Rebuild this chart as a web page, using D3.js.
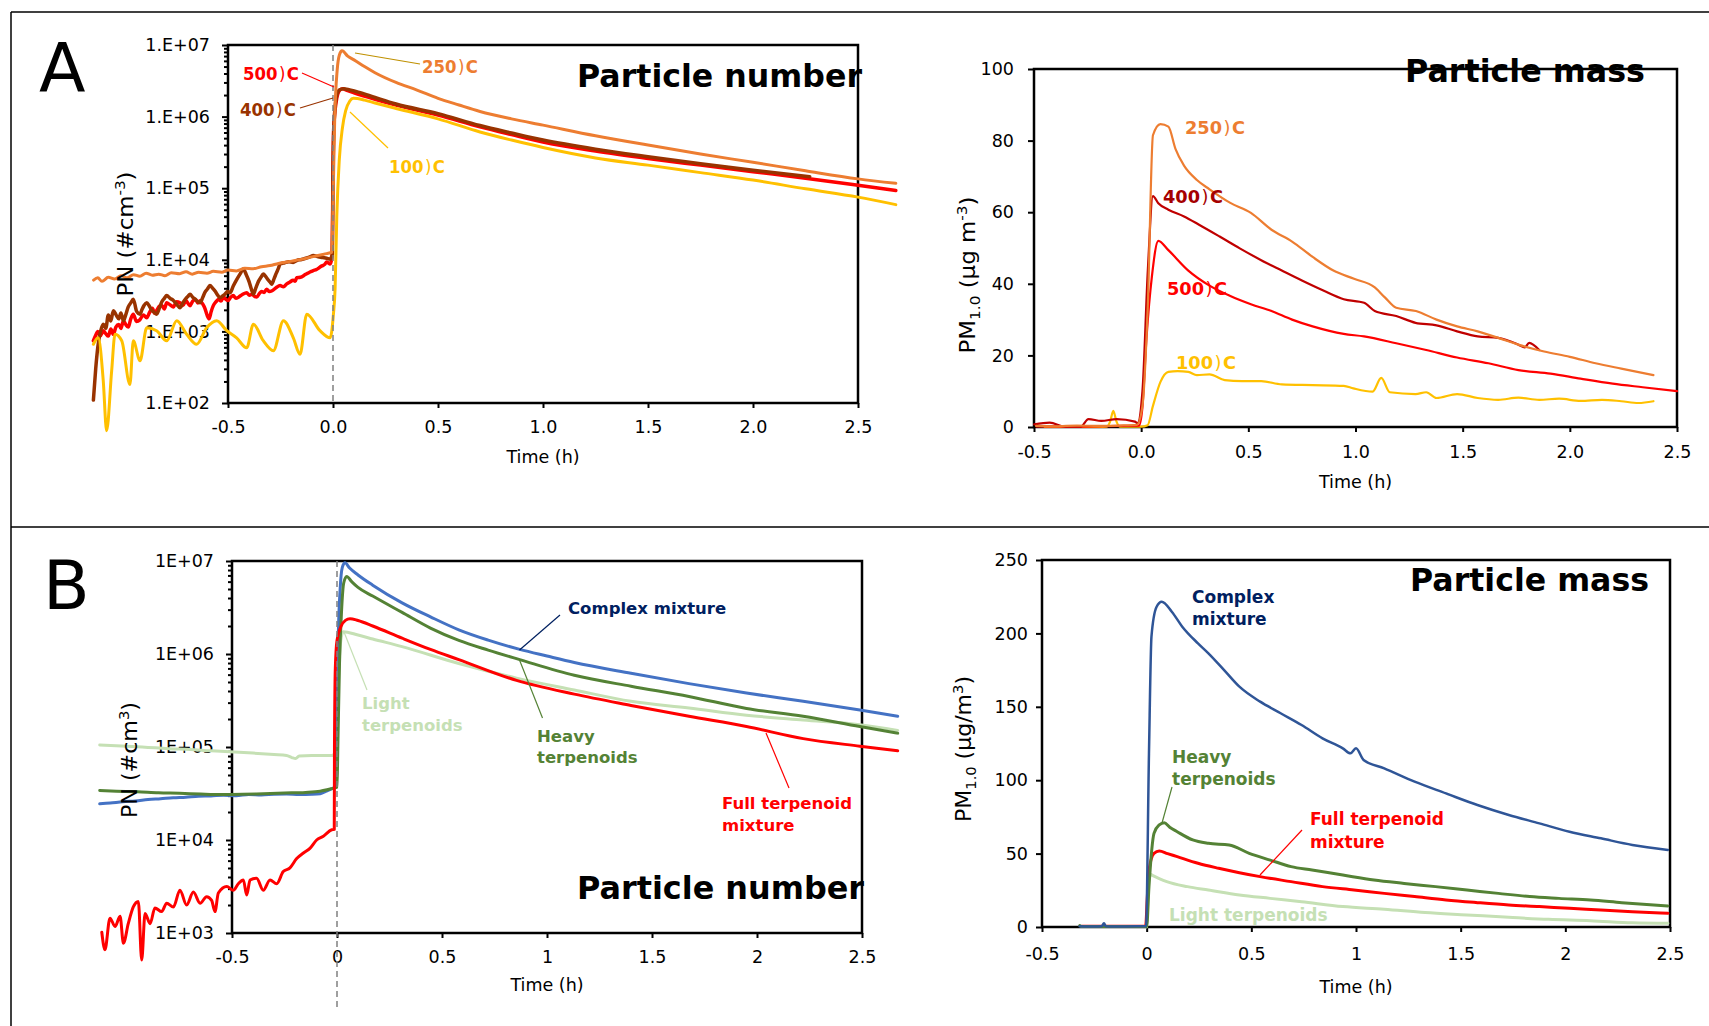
<!DOCTYPE html>
<html><head><meta charset="utf-8">
<script src="https://cdn.jsdelivr.net/npm/d3@7"></script>
<style>body{margin:0;background:#fff;} text{font-family:"DejaVu Sans",sans-serif;}</style>
</head><body><script>
// ---------------- DATA ----------------
const timeTicks = [-0.5, 0, 0.5, 1, 1.5, 2, 2.5];
const timeLabelsA = ["-0.5","0.0","0.5","1.0","1.5","2.0","2.5"];
const timeLabelsB = ["-0.5","0","0.5","1","1.5","2","2.5"];
const pnTicksA = [1e2,1e3,1e4,1e5,1e6,1e7];
const pnLabelsA = ["1.E+02","1.E+03","1.E+04","1.E+05","1.E+06","1.E+07"];
const pnTicksB = [1e3,1e4,1e5,1e6,1e7];
const pnLabelsB = ["1E+03","1E+04","1E+05","1E+06","1E+07"];
const pmTicksA = [0,20,40,60,80,100];
const pmTicksB = [0,50,100,150,200,250];
const namesA = ["100)C","250)C","400)C","500)C"];
const namesB = ["Complex mixture","Heavy terpenoids","Full terpenoid mixture","Light terpenoids"];

// Panel A - particle number (time h, #/cm3)
const pnA_250 = [[-1.14,5200],[-1.12,5600],[-1.10,5000],[-1.07,5700],[-1.04,5400],[-1.01,6000],[-0.98,5600],[-0.95,6200],[-0.92,5900],[-0.89,6500],[-0.86,6100],[-0.83,6300],[-0.80,6000],[-0.77,6600],[-0.73,6400],[-0.70,6800],[-0.67,6300],[-0.64,6700],[-0.60,6500],[-0.57,6900],[-0.53,6700],[-0.50,7200],[-0.46,7000],[-0.42,7600],[-0.38,7500],[-0.34,8000],[-0.30,8300],[-0.26,8900],[-0.22,9300],[-0.18,9800],[-0.14,10300],[-0.10,11000],[-0.06,11700],[-0.03,12200],[-0.005,12800],[0.0,60000],[0.008,900000],[0.02,4500000],[0.03,7200000],[0.043,8300000],[0.07,7000000],[0.1,6200000],[0.15,5000000],[0.2,4100000],[0.3,3000000],[0.4,2350000],[0.5,1800000],[0.6,1450000],[0.7,1180000],[0.85,930000],[1.0,760000],[1.25,540000],[1.5,400000],[1.75,300000],[2.0,230000],[2.25,175000],[2.5,135000],[2.68,117000]];
const pnA_500 = [[-1.141,740],[-1.13,880],[-1.12,1000],[-1.108,870],[-1.094,1020],[-1.082,930],[-1.07,860],[-1.058,1080],[-1.046,910],[-1.034,1150],[-1.02,1250],[-1.01,1100],[-0.998,1410],[-0.987,1250],[-0.975,1150],[-0.963,1500],[-0.951,1740],[-0.936,1380],[-0.92,1450],[-0.903,1700],[-0.887,1550],[-0.873,1850],[-0.86,2100],[-0.85,1800],[-0.84,1950],[-0.827,2250],[-0.815,2300],[-0.803,2050],[-0.792,2510],[-0.776,2350],[-0.76,2200],[-0.745,2600],[-0.729,2510],[-0.715,2300],[-0.70,2700],[-0.69,2450],[-0.681,2290],[-0.668,2650],[-0.655,2800],[-0.644,2500],[-0.633,2690],[-0.62,2400],[-0.61,2100],[-0.60,1700],[-0.59,1500],[-0.58,1900],[-0.57,2290],[-0.557,2600],[-0.545,2800],[-0.533,2650],[-0.522,3020],[-0.51,2800],[-0.50,2700],[-0.487,3000],[-0.475,3160],[-0.462,2900],[-0.45,3000],[-0.43,3300],[-0.411,3470],[-0.398,3200],[-0.385,3300],[-0.374,3100],[-0.363,3020],[-0.35,3400],[-0.34,3600],[-0.328,3500],[-0.316,3890],[-0.303,3600],[-0.29,3700],[-0.27,4100],[-0.252,4370],[-0.236,4200],[-0.22,4600],[-0.205,4900],[-0.19,5200],[-0.18,5000],[-0.173,5620],[-0.155,5700],[-0.14,6000],[-0.13,6300],[-0.12,6500],[-0.107,6800],[-0.094,7080],[-0.08,7300],[-0.07,7600],[-0.06,8000],[-0.05,8300],[-0.04,8600],[-0.03,9300],[-0.022,9000],[-0.014,8710],[-0.004,11000],[0.0,200000],[0.003,650000],[0.015,1600000],[0.03,2300000],[0.045,2450000],[0.07,2300000],[0.1,2150000],[0.2,1750000],[0.3,1450000],[0.5,1050000],[0.7,720000],[0.85,560000],[1.0,440000],[1.25,330000],[1.5,260000],[1.75,210000],[2.0,170000],[2.25,138000],[2.5,110000],[2.68,93000]];
const pnA_400 = [[-1.141,110],[-1.13,300],[-1.12,600],[-1.107,1000],[-1.094,1260],[-1.082,1100],[-1.07,1700],[-1.058,1400],[-1.046,1950],[-1.033,1700],[-1.02,1500],[-1.01,1800],[-0.998,1410],[-0.987,1700],[-0.975,2200],[-0.963,2500],[-0.951,2820],[-0.935,1900],[-0.919,1740],[-0.91,2000],[-0.90,2300],[-0.887,2510],[-0.876,2300],[-0.865,2000],[-0.852,1850],[-0.84,1740],[-0.827,2100],[-0.815,2600],[-0.803,2900],[-0.792,3160],[-0.776,2900],[-0.76,2700],[-0.745,2400],[-0.729,2140],[-0.715,2500],[-0.70,2900],[-0.69,3100],[-0.681,3310],[-0.668,3000],[-0.655,2800],[-0.644,2600],[-0.633,2510],[-0.62,3000],[-0.61,3500],[-0.598,3900],[-0.586,4370],[-0.573,4000],[-0.56,3600],[-0.549,3200],[-0.538,2950],[-0.527,3100],[-0.515,3300],[-0.502,3600],[-0.49,3470],[-0.475,4300],[-0.46,5200],[-0.443,6300],[-0.427,7410],[-0.413,6200],[-0.40,5000],[-0.39,4000],[-0.379,3310],[-0.367,4100],[-0.355,5000],[-0.343,5700],[-0.332,6310],[-0.32,5800],[-0.31,5300],[-0.30,4900],[-0.292,4570],[-0.28,5500],[-0.27,6500],[-0.26,7600],[-0.252,8710],[-0.23,9100],[-0.21,9400],[-0.19,9200],[-0.173,9770],[-0.15,10100],[-0.13,10500],[-0.11,11000],[-0.094,11480],[-0.07,11000],[-0.05,10800],[-0.03,10500],[-0.014,10230],[-0.003,12000],[0.0,150000],[0.005,800000],[0.015,1800000],[0.03,2350000],[0.05,2450000],[0.08,2350000],[0.12,2200000],[0.2,1850000],[0.3,1500000],[0.5,1100000],[0.7,750000],[0.85,590000],[1.0,470000],[1.25,350000],[1.5,275000],[1.75,220000],[2.0,178000],[2.27,145000]];
const pnA_100 = [[-1.141,661],[-1.118,813],[-1.094,204],[-1.078,41],[-1.054,282],[-1.038,912],[-1.006,741],[-0.967,182],[-0.951,741],[-0.919,389],[-0.887,1122],[-0.84,1023],[-0.792,741],[-0.744,1413],[-0.697,912],[-0.649,661],[-0.602,1122],[-0.554,1413],[-0.506,1023],[-0.459,813],[-0.411,589],[-0.379,1259],[-0.332,741],[-0.284,537],[-0.236,1413],[-0.189,813],[-0.157,479],[-0.125,1738],[-0.062,1023],[-0.014,813],[0.002,1738],[0.01,4000],[0.018,40000],[0.03,250000],[0.045,700000],[0.06,1200000],[0.08,1650000],[0.097,1800000],[0.15,1700000],[0.2,1550000],[0.3,1300000],[0.5,930000],[0.7,610000],[0.85,470000],[1.0,370000],[1.25,265000],[1.5,210000],[1.75,165000],[2.0,130000],[2.25,98000],[2.5,75000],[2.68,59000]];

// Panel A - particle mass (ug/m3)
const pmA_250 = [[-0.49,0.3],[-0.4,0.2],[-0.3,0.4],[-0.2,0.3],[-0.1,0.4],[-0.02,0.6],[0.006,5.9],[0.031,34],[0.055,81.5],[0.09,84.6],[0.127,83.9],[0.16,77.7],[0.2,73],[0.26,69],[0.319,66.4],[0.416,62.6],[0.512,59.8],[0.608,55.1],[0.704,51.8],[0.8,47.5],[0.897,43.7],[0.993,41.4],[1.09,39],[1.137,36.2],[1.19,33.3],[1.282,32.4],[1.378,30],[1.474,28.1],[1.57,26.7],[1.666,24.9],[1.76,23],[1.88,21.1],[2.0,19.6],[2.12,17.8],[2.24,16.3],[2.39,14.5]];
const pmA_400 = [[-0.499,0.75],[-0.427,1.2],[-0.354,0.1],[-0.282,0.1],[-0.246,2.2],[-0.186,1.7],[-0.114,2.2],[-0.029,1.5],[-0.017,1.1],[0.006,10],[0.031,43.7],[0.055,64.5],[0.08,62.5],[0.127,60.7],[0.2,58.8],[0.27,56.5],[0.366,53.2],[0.46,49.9],[0.56,46.6],[0.656,43.7],[0.75,40.9],[0.85,38.1],[0.945,35.7],[1.04,34.7],[1.09,32.4],[1.19,31],[1.28,29.1],[1.378,28.4],[1.474,26.7],[1.57,25.3],[1.666,24.9],[1.76,23],[1.79,22.2],[1.81,23.5],[1.857,21.5]];
const pmA_500 = [[-0.49,0.2],[-0.3,0.1],[-0.1,0.3],[-0.01,0.4],[0.005,5],[0.025,25],[0.05,42],[0.08,52],[0.127,49.4],[0.22,43.7],[0.319,39.5],[0.416,36.6],[0.512,34.3],[0.608,32.4],[0.704,30],[0.8,28.1],[0.945,26],[1.04,25.3],[1.19,23.4],[1.33,21.5],[1.474,19.4],[1.62,17.8],[1.76,15.9],[1.91,14.9],[2.05,13.5],[2.2,12.1],[2.34,11.1],[2.5,10]];
const pmA_100 = [[-0.45,0],[-0.2,0],[-0.16,0.1],[-0.145,1.5],[-0.13,4.5],[-0.115,1.5],[-0.1,0.1],[0.0,0.1],[0.03,0.5],[0.055,5.9],[0.09,12.6],[0.127,15.4],[0.17,15.6],[0.22,15.4],[0.26,14.5],[0.319,14.7],[0.39,13.1],[0.47,12.8],[0.56,12.8],[0.656,11.9],[0.8,11.7],[0.945,11.5],[0.99,10.8],[1.08,9.9],[1.12,13.7],[1.16,9.7],[1.28,9.2],[1.33,9.7],[1.378,8.1],[1.474,9.2],[1.57,8.1],[1.666,7.6],[1.76,8.2],[1.857,7.6],[1.95,7.9],[2.05,7.3],[2.15,7.6],[2.24,7.2],[2.32,6.7],[2.39,7.2]];

// Panel B - particle number
const pnB_complex = [[-1.13,24500],[-1.08,25000],[-1.02,25800],[-0.96,26300],[-0.9,27200],[-0.84,27800],[-0.78,28500],[-0.72,28900],[-0.66,29600],[-0.6,29800],[-0.54,30300],[-0.48,30000],[-0.42,30800],[-0.36,30500],[-0.3,31000],[-0.24,31200],[-0.18,30800],[-0.12,31000],[-0.08,31500],[-0.05,33500],[-0.02,36000],[-0.005,37500],[0.0,200000],[0.006,1500000],[0.015,5000000],[0.025,8500000],[0.038,9550000],[0.06,8400000],[0.1,7080000],[0.17,5500000],[0.31,3550000],[0.445,2510000],[0.58,1820000],[0.72,1410000],[0.87,1120000],[1.0,950000],[1.13,810000],[1.4,620000],[1.676,480000],[1.95,380000],[2.22,310000],[2.49,250000],[2.67,214000]];
const pnB_heavy = [[-1.13,34000],[-1.05,33500],[-0.95,33000],[-0.85,32200],[-0.75,31800],[-0.65,31200],[-0.55,30800],[-0.45,31000],[-0.35,31500],[-0.25,32000],[-0.15,32500],[-0.08,33500],[-0.03,35500],[0.0,37000],[0.004,100000],[0.012,800000],[0.022,3000000],[0.032,5800000],[0.046,6800000],[0.07,6000000],[0.1,5200000],[0.17,4200000],[0.31,2800000],[0.445,1900000],[0.58,1400000],[0.72,1100000],[0.87,870000],[1.13,590000],[1.4,450000],[1.676,350000],[1.95,260000],[2.22,214000],[2.49,166000],[2.67,141000]];
const pnB_full = [[-1.12,1020],[-1.105,661],[-1.081,1445],[-1.057,1175],[-1.033,1510],[-1.017,776],[-0.994,1259],[-0.97,1905],[-0.946,2188],[-0.93,513],[-0.914,1622],[-0.89,1259],[-0.867,1862],[-0.835,1698],[-0.811,2089],[-0.779,1905],[-0.748,2884],[-0.716,1995],[-0.684,2754],[-0.652,2089],[-0.621,2455],[-0.597,2239],[-0.581,1698],[-0.565,2692],[-0.525,3162],[-0.494,2884],[-0.47,3388],[-0.446,3715],[-0.43,2570],[-0.414,3715],[-0.383,3890],[-0.351,2884],[-0.319,3715],[-0.287,3388],[-0.256,4571],[-0.224,5012],[-0.192,6310],[-0.16,7244],[-0.129,8128],[-0.097,10000],[-0.065,10965],[-0.025,12882],[-0.013,13000],[-0.012,100000],[-0.008,700000],[0.0,1400000],[0.02,2000000],[0.04,2300000],[0.062,2400000],[0.1,2290000],[0.17,2000000],[0.31,1480000],[0.445,1120000],[0.58,870000],[0.855,520000],[1.13,370000],[1.4,280000],[1.676,214000],[1.95,166000],[2.22,123000],[2.49,102000],[2.67,91000]];
const pnB_light = [[-1.13,105000],[-1.0,102000],[-0.9,99000],[-0.8,96000],[-0.7,94000],[-0.6,91000],[-0.51,89000],[-0.4,86000],[-0.3,83000],[-0.24,81000],[-0.215,77000],[-0.197,75000],[-0.18,80000],[-0.12,81000],[-0.02,81000],[0.0,120000],[0.008,600000],[0.02,1500000],[0.03,1740000],[0.1,1600000],[0.17,1450000],[0.31,1200000],[0.58,790000],[0.855,550000],[1.13,410000],[1.4,310000],[1.676,263000],[1.95,220000],[2.22,195000],[2.49,174000],[2.67,151000]];

// Panel B - particle mass
const pmB_complex = [[-0.32,0.5],[-0.25,0.3],[-0.215,0.5],[-0.204,2.5],[-0.195,0.5],[-0.15,0.3],[-0.05,0.5],[-0.003,0.5],[0.011,118],[0.023,198],[0.047,218],[0.072,221.6],[0.12,214.8],[0.17,204.6],[0.245,193.2],[0.295,186.4],[0.37,175],[0.443,163.7],[0.542,153.5],[0.64,145.6],[0.74,137.6],[0.84,128.5],[0.937,121.7],[0.974,118.3],[1.0,121.7],[1.036,113.8],[1.135,108.1],[1.28,99],[1.43,91],[1.58,83.1],[1.73,76.3],[1.876,70.6],[2.02,64.9],[2.17,60.4],[2.32,55.9],[2.49,52.5]];
const pmB_heavy = [[-0.32,1],[-0.31,0.3],[-0.1,0.3],[0.0,0.3],[0.011,27.5],[0.035,63.8],[0.06,69.5],[0.084,71],[0.11,68],[0.146,64.9],[0.22,59.3],[0.295,57],[0.394,55.9],[0.49,50.2],[0.59,45.6],[0.69,41.1],[0.79,38.8],[0.937,35.4],[1.086,32],[1.23,29.7],[1.38,27.5],[1.53,25.2],[1.68,22.9],[1.83,20.7],[1.97,19.5],[2.12,18.4],[2.27,16.6],[2.49,14.3]];
const pmB_full = [[-0.31,0.5],[-0.1,0.5],[-0.005,0.5],[0.003,20],[0.011,38.8],[0.035,50.2],[0.06,51.8],[0.1,50],[0.146,47.9],[0.245,43.4],[0.344,40],[0.443,37],[0.542,34.3],[0.69,30.9],[0.84,27.5],[0.99,25.2],[1.135,22.9],[1.28,20.7],[1.43,18.4],[1.58,16.6],[1.73,15],[1.876,13.9],[2.02,12.7],[2.17,11.6],[2.32,10.4],[2.49,9.3]];
const pmB_light = [[0.0,0],[0.006,20],[0.011,36.5],[0.03,35],[0.06,33],[0.096,30.9],[0.195,27.5],[0.295,25.2],[0.443,21.8],[0.59,19.5],[0.74,17.2],[0.937,13.9],[1.135,12.1],[1.33,9.8],[1.53,8.2],[1.73,6.6],[1.92,5.2],[2.12,4.3],[2.32,2.9],[2.49,2.5]];

// ---------------- DRAW ----------------
const W = 1709, H = 1026;
const svg = d3.select("body").append("svg").attr("width", W).attr("height", H).style("display","block");
svg.append("rect").attr("width",W).attr("height",H).attr("fill","#fff");

// outer frames
[[11,12,W,12],[11,12,11,H],[11,527,W,527]].forEach(l=>{
  svg.append("line").attr("x1",l[0]).attr("y1",l[1]).attr("x2",l[2]).attr("y2",l[3]).attr("stroke","#000").attr("stroke-width",1.5);
});

function styleAxis(sel, fs){
  sel.select(".domain").remove();
  sel.selectAll("line").attr("stroke","#000").attr("stroke-width",2);
  sel.selectAll("text").attr("fill","#000").style("font-size",fs+"px").style("font-family","DejaVu Sans");
}

function drawPanel(p){
  const g = svg.append("g");
  const x = d3.scaleLinear().domain([timeTicks[0], timeTicks[timeTicks.length-1]]).range([p.left, p.right]);
  const y = (p.log ? d3.scaleLog() : d3.scaleLinear()).domain(p.yDomain).range([p.bottom, p.top]);

  g.append("rect").attr("x",p.left).attr("y",p.top).attr("width",p.right-p.left).attr("height",p.bottom-p.top)
    .attr("fill","none").attr("stroke","#000").attr("stroke-width",2.5);

  // x axis
  const xa = g.append("g").attr("transform",`translate(0,${p.bottom})`)
    .call(d3.axisBottom(x).tickValues(timeTicks).tickFormat((d,i)=>p.xLabels[i]).tickSize(5).tickPadding(p.xPad));
  styleAxis(xa, 17.5);

  // y axis
  const ya = g.append("g").attr("transform",`translate(${p.left},0)`)
    .call(d3.axisLeft(y).tickValues(p.yTicks).tickFormat((d,i)=>p.yLabels[i]).tickSize(6).tickPadding(p.yPad));
  styleAxis(ya, 17.5);
  if (p.log){
    const minor = [];
    for (let i=0;i<p.yTicks.length-1;i++) for (let k=2;k<10;k++) minor.push(p.yTicks[i]*k);
    const ym = g.append("g").attr("transform",`translate(${p.left},0)`)
      .call(d3.axisLeft(y).tickValues(minor).tickFormat("").tickSize(4));
    styleAxis(ym, 10);
  }

  // series
  const line = d3.line().x(d=>x(d[0])).y(d=>y(d[1])).curve(d3.curveMonotoneX);
  p.series.forEach(s=>{
    g.append("path").attr("d", line(s.data)).attr("fill","none")
      .attr("stroke", s.color).attr("stroke-width", s.w)
      .attr("stroke-linejoin","round").attr("stroke-linecap","round");
  });

  // dashed t=0 line
  if (p.dash){
    g.append("line").attr("x1",x(0)).attr("x2",x(0)).attr("y1",p.top).attr("y2",p.dash)
      .attr("stroke","#808080").attr("stroke-width",1.5).attr("stroke-dasharray","6,4");
  }

  // axis titles
  g.append("text").attr("x",(p.left+p.right)/2).attr("y",p.xTitleY).attr("text-anchor","middle")
    .style("font-size","17.5px").attr("fill","#000").text("Time (h)");
  const yt = g.append("text").attr("transform",`translate(${p.yTitleX},${p.yTitleY}) rotate(-90)`)
    .attr("text-anchor","middle").style("font-size","21px").attr("fill","#000");
  p.yTitle.forEach(part=>{
    const ts = yt.append("tspan").text(part.t);
    if (part.dy) ts.attr("dy", part.dy);
    if (part.fs) ts.style("font-size", part.fs+"px");
  });
  yt.attr("textLength", p.yTitleLen).attr("lengthAdjust","spacingAndGlyphs");

  // panel title
  g.append("text").attr("x",p.title[1]).attr("y",p.title[2]).style("font-size","31.5px").style("font-weight","bold")
    .attr("fill","#000").attr("textLength",p.title[3]).attr("lengthAdjust","spacingAndGlyphs").text(p.title[0]);

  // leaders
  (p.leaders||[]).forEach(l=>{
    g.append("line").attr("x1",l[0]).attr("y1",l[1]).attr("x2",l[2]).attr("y2",l[3]).attr("stroke",l[4]).attr("stroke-width",1.2);
  });
  // labels
  (p.labels||[]).forEach(l=>{
    const lh = l.lh || 0;
    l.lines.forEach((txt,i)=>{
      const t = g.append("text").attr("x",l.x).attr("y",l.y + i*lh).style("font-size",l.fs+"px")
        .style("font-weight","bold").attr("fill",l.color);
      if (txt.includes(")")){
        const parts = txt.split(")");
        t.append("tspan").text(parts[0]);
        t.append("tspan").attr("dx",1.5).style("font-weight","normal").text(")");
        t.append("tspan").attr("dx",1.5).text(parts[1]);
        if (l.len) t.attr("textLength",l.len).attr("lengthAdjust","spacingAndGlyphs");
      } else t.text(txt);
    });
  });
}

// Panel letters
svg.append("text").attr("x",39).attr("y",92).style("font-size","68px").attr("fill","#000").text("A");
svg.append("text").attr("x",43).attr("y",609).style("font-size","68px").attr("fill","#000").text("B");

// A: particle number
drawPanel({
  left:228, right:858, top:45, bottom:403, log:true, yDomain:[1e2,1e7],
  yTicks:pnTicksA, yLabels:pnLabelsA, yPad:12, xLabels:timeLabelsA, xPad:13, xTitleY:463,
  dash:403,
  yTitle:[{t:"PN (#cm"},{t:"-3",dy:-8,fs:14},{t:")",dy:8}], yTitleX:133, yTitleY:234, yTitleLen:125,
  title:["Particle number",577,87,285],
  series:[
    {data:pnA_500,color:"#FF0000",w:3.5},
    {data:pnA_400,color:"#993300",w:3.5},
    {data:pnA_250,color:"#ED7D31",w:3},
    {data:pnA_100,color:"#FFC000",w:3}
  ],
  leaders:[[355,53,420,64,"#BF9000"],[334,87,302,73,"#FF0000"],[333,98,300,108,"#993300"],[350,112,388,148,"#FFC000"]],
  labels:[
    {x:422,y:73,lines:[namesA[1]],color:"#ED7D31",fs:17,len:56},
    {x:243,y:79.5,lines:[namesA[3]],color:"#FF0000",fs:17,len:56},
    {x:240,y:115.5,lines:[namesA[2]],color:"#993300",fs:17,len:56},
    {x:389,y:173,lines:[namesA[0]],color:"#FFC000",fs:17,len:56}
  ]
});

// A: particle mass
drawPanel({
  left:1034, right:1677, top:69, bottom:427, log:false, yDomain:[0,100],
  yTicks:pmTicksA, yLabels:pmTicksA.map(String), yPad:14, xLabels:timeLabelsA, xPad:14, xTitleY:488,
  yTitle:[{t:"PM"},{t:"1.0",dy:5,fs:14},{t:" (μg m",dy:-5},{t:"-3",dy:-8,fs:14},{t:")",dy:8}], yTitleX:975, yTitleY:275, yTitleLen:157,
  title:["Particle mass",1405,82,240],
  series:[
    {data:pmA_100,color:"#FFC000",w:2.2},
    {data:pmA_500,color:"#FF0000",w:2.2},
    {data:pmA_400,color:"#C00000",w:2.2},
    {data:pmA_250,color:"#ED7D31",w:2.2}
  ],
  labels:[
    {x:1185,y:134,lines:[namesA[1]],color:"#ED7D31",fs:18,len:60},
    {x:1163,y:203,lines:[namesA[2]],color:"#A50000",fs:18,len:60},
    {x:1167,y:294.5,lines:[namesA[3]],color:"#FF0000",fs:18,len:60},
    {x:1176,y:369,lines:[namesA[0]],color:"#FFC000",fs:18,len:60}
  ]
});

// B: particle number
drawPanel({
  left:232, right:862, top:561, bottom:933, log:true, yDomain:[1e3,1e7],
  yTicks:pnTicksB, yLabels:pnLabelsB, yPad:12, xLabels:timeLabelsB, xPad:13, xTitleY:991,
  dash:1010,
  yTitle:[{t:"PN (#cm"},{t:"3",dy:-8,fs:14},{t:")",dy:8}], yTitleX:137, yTitleY:760, yTitleLen:116,
  title:["Particle number",577,899,287],
  series:[
    {data:pnB_light,color:"#C5E0B4",w:3},
    {data:pnB_complex,color:"#4472C4",w:3},
    {data:pnB_heavy,color:"#548235",w:3},
    {data:pnB_full,color:"#FF0000",w:3}
  ],
  leaders:[[560,615,519.5,650,"#002060"],[344,632,367,690,"#C5E0B4"],[519.5,660,542.5,718,"#548235"],[766,733,789,788,"#FF0000"]],
  labels:[
    {x:568,y:614,lines:[namesB[0]],color:"#002060",fs:16.5},
    {x:362,y:709,lines:["Light","terpenoids"],color:"#C5E0B4",fs:16.5,lh:22},
    {x:537,y:742,lines:["Heavy","terpenoids"],color:"#548235",fs:16.5,lh:21},
    {x:722,y:809,lines:["Full terpenoid","mixture"],color:"#FF0000",fs:16.5,lh:22}
  ]
});

// B: particle mass
drawPanel({
  left:1042, right:1670, top:560, bottom:927, log:false, yDomain:[0,250],
  yTicks:pmTicksB, yLabels:pmTicksB.map(String), yPad:8, xLabels:timeLabelsB, xPad:16, xTitleY:993,
  yTitle:[{t:"PM"},{t:"1.0",dy:5,fs:14},{t:" (μg/m",dy:-5},{t:"3",dy:-8,fs:14},{t:")",dy:8}], yTitleX:971, yTitleY:749, yTitleLen:146,
  title:["Particle mass",1410,591,239],
  series:[
    {data:pmB_light,color:"#C5E0B4",w:3},
    {data:pmB_full,color:"#FF0000",w:3},
    {data:pmB_heavy,color:"#548235",w:3},
    {data:pmB_complex,color:"#2F5597",w:2.5}
  ],
  leaders:[[1172,787,1162,823,"#548235"],[1302,830,1260,875,"#FF0000"]],
  labels:[
    {x:1192,y:603,lines:["Complex","mixture"],color:"#002060",fs:17,lh:22},
    {x:1172,y:763,lines:["Heavy","terpenoids"],color:"#548235",fs:17,lh:22},
    {x:1310,y:825,lines:["Full terpenoid","mixture"],color:"#FF0000",fs:17,lh:23},
    {x:1169,y:921,lines:[namesB[3]],color:"#C5E0B4",fs:17}
  ]
});
</script></body></html>
